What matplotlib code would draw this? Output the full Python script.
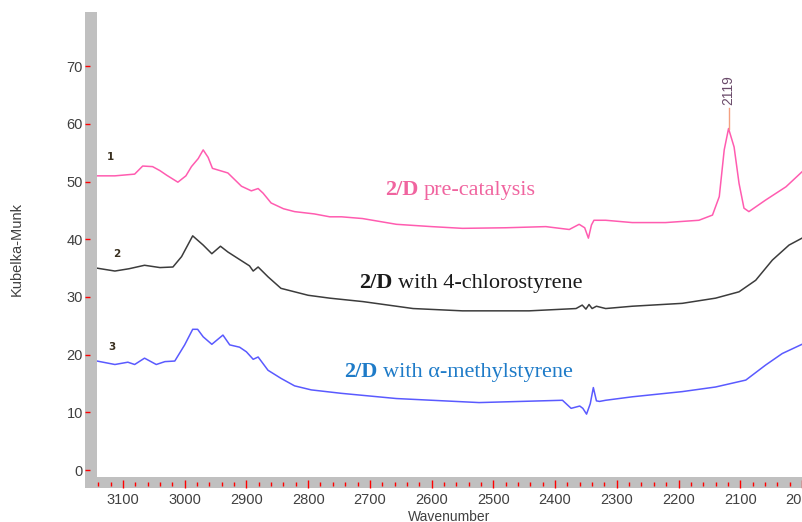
import matplotlib.pyplot as plt
from matplotlib.patches import Rectangle
from matplotlib.offsetbox import TextArea, HPacker, AnnotationBbox
from matplotlib.ticker import MultipleLocator

# spectrum 1: 2/D pre-catalysis
w1 = [3142, 3113, 3081, 3068, 3052, 3040, 3029, 3011, 2998, 2989, 2978, 2970, 2962, 2955,
      2930, 2908, 2892, 2881, 2873, 2860, 2840, 2822, 2790, 2765, 2746, 2712, 2657, 2600,
      2550, 2480, 2415, 2377, 2361, 2352, 2346, 2341, 2337, 2318, 2275, 2221, 2167, 2145,
      2134, 2126, 2119, 2110, 2102, 2094, 2086, 2059, 2026, 2000]
y1 = [51.0, 51.0, 51.3, 52.7, 52.6, 51.9, 51.1, 49.9, 51.0, 52.6, 54.0, 55.5, 54.2, 52.3,
      51.5, 49.2, 48.4, 48.8, 48.0, 46.3, 45.3, 44.8, 44.4, 43.9, 43.9, 43.6, 42.6, 42.2,
      41.9, 42.0, 42.2, 41.7, 42.6, 42.0, 40.2, 42.5, 43.3, 43.3, 42.9, 42.9, 43.3, 44.2,
      47.4, 55.5, 59.2, 56.0, 49.7, 45.4, 44.8, 46.8, 49.1, 51.7]

# spectrum 2: 2/D with 4-chlorostyrene
w2 = [3142, 3113, 3090, 3065, 3040, 3019, 3005, 2987, 2970, 2956, 2942, 2930, 2914, 2895,
      2889, 2881, 2865, 2844, 2800, 2765, 2711, 2630, 2550, 2442, 2366, 2356, 2350, 2345,
      2340, 2333, 2318, 2275, 2194, 2140, 2102, 2075, 2048, 2021, 2000]
y2 = [35.0, 34.5, 34.9, 35.5, 35.1, 35.2, 37.0, 40.6, 39.0, 37.5, 38.8, 37.8, 36.7, 35.4,
      34.5, 35.2, 33.5, 31.5, 30.3, 29.8, 29.2, 28.0, 27.6, 27.6, 28.0, 28.6, 27.9, 28.7,
      28.0, 28.4, 28.0, 28.4, 28.9, 29.8, 30.9, 32.9, 36.4, 39.0, 40.2]

# spectrum 3: 2/D with alpha-methylstyrene
w3 = [3142, 3113, 3092, 3081, 3065, 3046, 3032, 3016, 3000, 2987, 2979, 2970, 2956, 2938,
      2927, 2911, 2900, 2889, 2881, 2865, 2844, 2822, 2795, 2746, 2657, 2523, 2388, 2374,
      2360, 2355, 2349, 2343, 2338, 2333, 2328, 2318, 2275, 2194, 2140, 2091, 2059, 2032, 2000]
y3 = [18.9, 18.3, 18.7, 18.3, 19.4, 18.3, 18.8, 18.9, 21.7, 24.4, 24.4, 23.1, 21.8, 23.4,
      21.7, 21.3, 20.5, 19.2, 19.6, 17.3, 15.9, 14.6, 13.9, 13.3, 12.4, 11.7, 12.1, 10.7,
      11.1, 10.7, 9.7, 11.5, 14.3, 12.0, 11.9, 12.1, 12.7, 13.6, 14.4, 15.6, 18.2, 20.2, 21.8]

peak_pos = 2119
peak_val = 59.2

fig = plt.figure(figsize=(8.02, 5.22), dpi=100)
ax = fig.add_axes([97 / 802, 45 / 522, 705 / 802, 465 / 522])

ax.plot(w1, y1, color="#ff5cb0", lw=1.1)
ax.plot(w2, y2, color="#3c3c3c", lw=1.1)
ax.plot(w3, y3, color="#5a5aff", lw=1.1)

ax.set_xlim(3142, 2000)
ax.set_ylim(-1.2, 79.4)

# grey frame on the left and bottom
gray = "#c0c0c0"
ax.add_patch(Rectangle((-12 / 705, -11 / 465), 12 / 705, 1 + 11 / 465, transform=ax.transAxes,
                       color=gray, clip_on=False, zorder=0.5, lw=0))
ax.add_patch(Rectangle((-12 / 705, -11 / 465), 1 + 12 / 705, 11 / 465, transform=ax.transAxes,
                       color=gray, clip_on=False, zorder=0.5, lw=0))

for s in ax.spines.values():
    s.set_color("none")
ax.spines["left"].set_position(("outward", 5.0))
ax.spines["bottom"].set_position(("outward", 5.0))

ax.set_yticks(range(0, 80, 10))
ax.xaxis.set_major_locator(MultipleLocator(100))
ax.xaxis.set_minor_locator(MultipleLocator(20))

ax.tick_params(axis="y", direction="out", length=3.6, width=1, color="red",
               labelcolor="#404040", labelsize=10.5, pad=1.5)
ax.tick_params(axis="x", which="major", direction="inout", length=5.8, width=1,
               color="red", labelcolor="#404040", labelsize=10.5, pad=3.5)
ax.tick_params(axis="x", which="minor", direction="inout", length=3, width=1, color="red")
for lab in ax.get_xticklabels() + ax.get_yticklabels():
    lab.set_family("Liberation Sans")

ax.set_xlabel("Wavenumber", family="Liberation Sans", fontsize=10, color="#404040", labelpad=2)
ax.set_ylabel("Kubelka-Munk", family="Liberation Sans", fontsize=10.5, color="#404040")
ax.yaxis.set_label_coords(-0.104, 0.49)

# curve numbers
for n, (xx, yy) in enumerate([(3121, 54.2), (3110, 37.4), (3117, 21.3)], start=1):
    ax.text(xx, yy, str(n), fontsize=7.5, color="#3a3020", family="DejaVu Sans",
            weight="bold", ha="center", va="center")

# peak marker
ax.plot([peak_pos, peak_pos], [peak_val, peak_val + 3.6], color="#f4a080", lw=1)
ax.text(peak_pos, peak_val + 4.0, str(peak_pos), rotation=90, ha="center", va="bottom",
        fontsize=10, color="#6a4a6a", family="Liberation Sans")


def label(x, y, rest, color):
    parts = [TextArea("2/D", textprops=dict(color=color, family="Liberation Serif",
                                            weight="bold", fontsize=16)),
             TextArea(rest, textprops=dict(color=color, family="Liberation Serif",
                                           fontsize=16))]
    box = HPacker(children=parts, align="baseline", pad=0, sep=4)
    ab = AnnotationBbox(box, (x, y), xycoords="data", frameon=False, box_alignment=(0.5, 0.5))
    ax.add_artist(ab)


label(2553, 48.6, "pre-catalysis", "#f0649f")
label(2536, 32.4, "with 4-chlorostyrene", "#1a1a1a")
label(2557, 17.0, "with \u03b1-methylstyrene", "#1e7bc8")

fig.savefig("out.png", dpi=100)
